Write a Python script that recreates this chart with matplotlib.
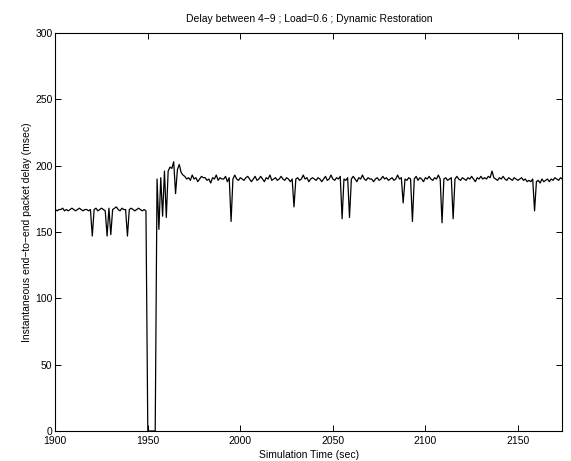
import matplotlib

matplotlib.use("Agg")
import matplotlib.pyplot as plt
import numpy as np

# sampled once per second, 1900 .. 2174 s
T_START = 1900
T_STEP = 1

# before the link failure (1900-1949)
delay_before = [
    167, 166, 167, 167, 168, 166, 167, 166, 167, 168,
    167, 166, 167, 168, 167, 166, 167, 167, 166, 167,
    147, 167, 168, 166, 167, 168, 167, 166, 147, 168,
    148, 167, 168, 169, 167, 166, 168, 167, 167, 147,
    167, 168, 167, 166, 167, 168, 167, 166, 167, 166,
]

# outage and restoration transient (1950-1970)
delay_transient = [
    0, 0, 0, 0, 0, 190, 152, 191, 162, 196,
    161, 196, 199, 198, 203, 179, 197, 201, 195, 193,
    192,
]

# restored path (1971-2174)
delay_after = [
    190, 191, 189, 193, 190, 191, 188, 190, 192, 191,
    191, 189, 190, 187, 191, 190, 193, 189, 191, 190,
    190, 192, 188, 191, 158, 190, 193, 190, 189, 191,
    190, 189, 191, 192, 190, 188, 190, 192, 189, 190,
    192, 190, 188, 191, 190, 193, 189, 190, 191, 189,
    190, 192, 190, 189, 191, 190, 188, 190, 169, 190,
    191, 189, 190, 193, 190, 191, 188, 190, 191, 190,
    189, 191, 190, 188, 190, 192, 189, 190, 193, 190,
    189, 191, 190, 192, 160, 190, 189, 191, 161, 190,
    192, 190, 188, 191, 190, 193, 190, 189, 191, 190,
    190, 188, 190, 191, 189, 190, 192, 190, 191, 189,
    190, 191, 189, 190, 193, 190, 191, 172, 190, 189,
    191, 190, 158, 190, 192, 189, 191, 190, 188, 191,
    190, 192, 190, 189, 191, 190, 193, 190, 157, 190,
    191, 189, 190, 191, 160, 190, 192, 190, 189, 191,
    190, 189, 191, 190, 192, 190, 188, 191, 190, 192,
    190, 191, 190, 192, 191, 196, 191, 190, 189, 191,
    190, 192, 190, 189, 191, 190, 189, 191, 190, 189,
    190, 191, 189, 190, 188, 189, 188, 190, 166, 188,
    189, 187, 190, 188, 189, 190, 188, 190, 189, 191,
    190, 189, 191, 190,
]

x_ticks = [1900, 1950, 2000, 2050, 2100, 2150]
y_ticks = [0, 50, 100, 150, 200, 250, 300]

TITLE = "Delay between 4\u22129 ; Load=0.6 ; Dynamic Restoration"
XLABEL = "Simulation Time (sec)"
YLABEL = "Instantaneous end\u2212to\u2212end packet delay (msec)"


def main() -> None:
    plt.rcParams["font.family"] = ["Liberation Sans", "DejaVu Sans"]
    delay = np.array(delay_before + delay_transient + delay_after, dtype=float)
    t = T_START + T_STEP * np.arange(len(delay))

    fig = plt.figure(figsize=(5.71, 4.61), dpi=100)
    ax = fig.add_axes([0.0968, 0.0651, 0.888, 0.863])
    ax.plot(t, delay, color="black", linewidth=0.9)

    ax.set_xlim(1900, 2174)
    ax.set_ylim(0, 300)
    ax.set_xticks(x_ticks)
    ax.set_yticks(y_ticks)
    ax.tick_params(direction="in", length=4, width=0.7, labelsize=7.5,
                   top=True, right=True)
    ax.tick_params(axis="x", pad=3.5)
    ax.tick_params(axis="y", pad=2)
    for sp in ax.spines.values():
        sp.set_linewidth(0.8)

    ax.set_title(TITLE, fontsize=7.5, pad=8)
    ax.set_xlabel(XLABEL, fontsize=7.5, labelpad=3)
    ax.set_ylabel(YLABEL, fontsize=7.5, labelpad=2)

    fig.savefig("out.png", dpi=100, facecolor="white")
    plt.close(fig)


if __name__ == "__main__":
    main()
